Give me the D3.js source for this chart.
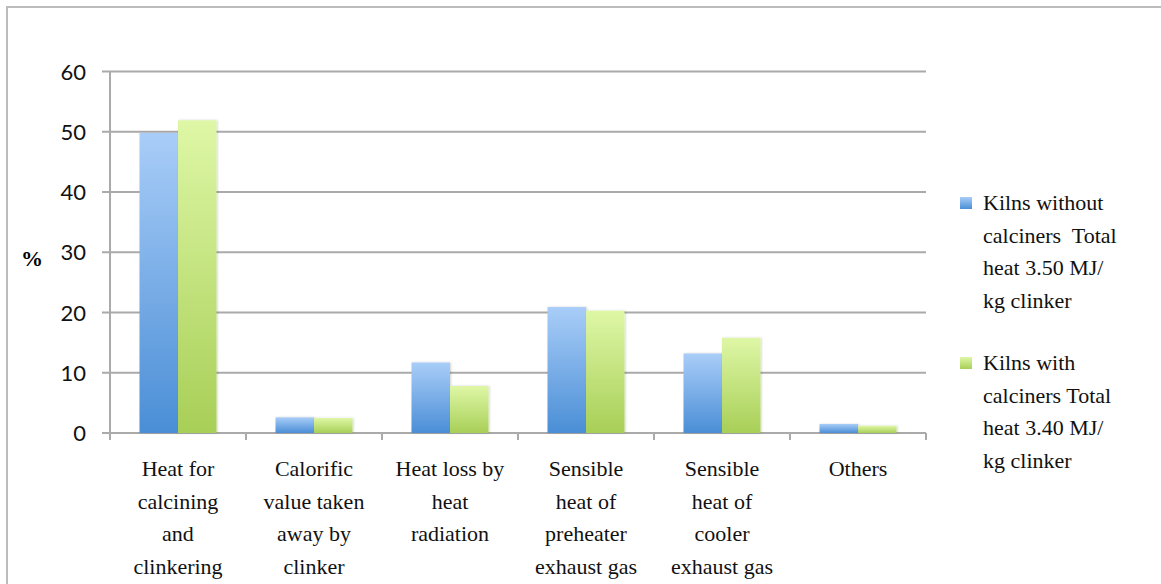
<!DOCTYPE html>
<html><head><meta charset="utf-8">
<script src="https://cdn.jsdelivr.net/npm/d3@7"></script>
</head><body style="margin:0">
<script>
const categories = [
  ["Heat for","calcining","and","clinkering"],
  ["Calorific","value taken","away by","clinker"],
  ["Heat loss by","heat","radiation"],
  ["Sensible","heat of","preheater","exhaust gas"],
  ["Sensible","heat of","cooler","exhaust gas"],
  ["Others"]
];
const seriesNames = [
  ["Kilns without","calciners\u00a0 Total","heat 3.50 MJ/","kg clinker"],
  ["Kilns with","calciners Total","heat 3.40 MJ/","kg clinker"]
];
const withoutCalciners = [49.8, 2.6, 11.7, 20.9, 13.2, 1.5];
const withCalciners    = [51.9, 2.5, 7.8, 20.3, 15.8, 1.2];
const yTicks = [0,10,20,30,40,50,60];

const W = 1161, H = 584;
const svg = d3.select("body").append("svg").attr("width", W).attr("height", H).style("display","block");
const defs = svg.append("defs");
const grads = [["#a9cdf8","#4a8ed6"],["#def7a6","#a8cf57"]];
grads.forEach((g,i)=>{
  const lg = defs.append("linearGradient").attr("id","g"+i).attr("x1",0).attr("x2",0).attr("y1",0).attr("y2",1);
  lg.append("stop").attr("offset","0%").attr("stop-color",g[0]);
  lg.append("stop").attr("offset","100%").attr("stop-color",g[1]);
});
const f = defs.append("filter").attr("id","sh").attr("x","-20%").attr("y","-20%").attr("width","140%").attr("height","140%");
f.append("feDropShadow").attr("dx",1).attr("dy",0).attr("stdDeviation",1.2).attr("flood-color","#000").attr("flood-opacity",0.18);

// outer border
svg.append("path").attr("d",`M7,${H+5} L7,7 L${W+5},7`).attr("fill","none").attr("stroke","#bcbcbc").attr("stroke-width",2);

const x0 = 110, x1 = 926, yTop = 71.5, yBot = 433;
const x = d3.scaleBand().domain(d3.range(categories.length)).range([x0,x1]).paddingInner(0.434).paddingOuter(0.217);
const xs = d3.scaleBand().domain([0,1]).range([0, x.bandwidth()]);
const y = d3.scaleLinear().domain([0,60]).range([yBot,yTop]);

// gridlines
svg.append("g").selectAll("line").data(yTicks).join("line")
  .attr("x1",x0-8).attr("x2",x1).attr("y1",d=>y(d)).attr("y2",d=>y(d))
  .attr("stroke","#aaaaaa").attr("stroke-width",2);
// y axis line
svg.append("line").attr("x1",x0).attr("x2",x0).attr("y1",yTop).attr("y2",yBot+7).attr("stroke","#aaaaaa").attr("stroke-width",2);
// x ticks
const bounds = d3.range(categories.length+1).map(i=> x0 + i*(x1-x0)/categories.length);
svg.append("g").selectAll("line").data(bounds).join("line")
  .attr("x1",d=>d).attr("x2",d=>d).attr("y1",yBot).attr("y2",yBot+7)
  .attr("stroke","#aaaaaa").attr("stroke-width",2);

// y tick labels
svg.append("g").selectAll("text").data(yTicks).join("text")
  .attr("x",86).attr("y",d=>y(d)+8)
  .attr("text-anchor","end")
  .style("font-family","Lato").style("font-size","22px").style("fill","#111")
  .text(d=>d);
svg.append("text").attr("x",32).attr("y",266).attr("text-anchor","middle")
  .style("font-family","Liberation Serif").style("font-weight","bold").style("font-size","22px").text("%");

// bars
const series = [withoutCalciners, withCalciners];
series.forEach((vals,si)=>{
  svg.append("g").selectAll("rect").data(vals).join("rect")
    .attr("x",(d,i)=>x(i)+xs(si)).attr("width",xs.bandwidth())
    .attr("y",d=>y(d)).attr("height",d=>yBot-y(d))
    .attr("fill",`url(#g${si})`).attr("filter","url(#sh)");
});

// category labels
categories.forEach((lines,i)=>{
  lines.forEach((l,k)=>{
    svg.append("text").attr("text-anchor","middle")
      .attr("x", x(i)+x.bandwidth()/2).attr("y", 476 + k*32.5)
      .style("font-family","Liberation Serif").style("font-size","22px").style("fill","#111").text(l);
  });
});

// legend
seriesNames.forEach((lines,si)=>{
  const top = 197 + si*160;
  svg.append("rect").attr("x",960).attr("y",top).attr("width",12).attr("height",12).attr("fill",`url(#g${si})`);
  lines.forEach((l,k)=>{
    svg.append("text").attr("x",983).attr("y", top+13 + k*32.5)
      .style("font-family","Liberation Serif").style("font-size","22px").style("fill","#111").text(l);
  });
});
</script>
</body></html>
